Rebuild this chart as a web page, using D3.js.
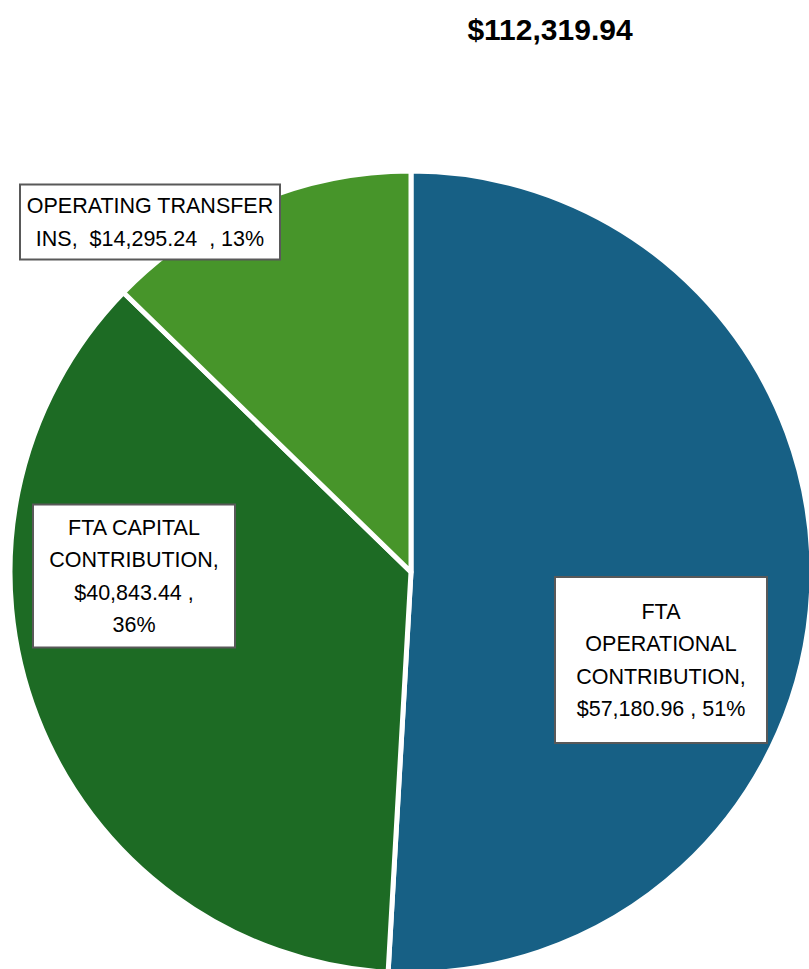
<!DOCTYPE html>
<html>
<head>
<meta charset="utf-8">
<script src="https://cdn.jsdelivr.net/npm/d3@7"></script>
<style>
    body { margin: 0; background: #fff; overflow: hidden; }
    text { font-family: "Liberation Sans", Arial, sans-serif; }
</style>
</head>
<body>
<div id="chart"></div>
<script>
// data
let categories = ['FTA OPERATIONAL CONTRIBUTION', 'FTA CAPITAL CONTRIBUTION', 'OPERATING TRANSFER INS'];
let amounts = [57180.96, 40843.44, 14295.24];
let percentLabels = ['51%', '36%', '13%'];
let totalLabel = '$112,319.94';
let colors = ['#176085', '#1d6b24', '#47952a'];

// label text lines, as wrapped in the reference
let labelLines = [
    ['FTA', 'OPERATIONAL', 'CONTRIBUTION,', '$57,180.96 , 51%'],
    ['FTA CAPITAL', 'CONTRIBUTION,', '$40,843.44 ,', '36%'],
    ['OPERATING TRANSFER', 'INS,  $14,295.24  , 13%']
];

// label box layout (center x, center y, width, height)
let labelBoxes = [
    {cx: 661, cy: 660, w: 212, h: 166},
    {cx: 134, cy: 576, w: 202, h: 143},
    {cx: 150, cy: 222, w: 260, h: 75}
];

let width = 809, height = 969;
let center = {x: 411, y: 572};
let radius = 401;

let svg = d3.select('#chart').append('svg')
    .attr('width', width)
    .attr('height', height);

// title
svg.append('text')
    .attr('x', 550)
    .attr('y', 40)
    .attr('text-anchor', 'middle')
    .attr('font-weight', 'bold')
    .attr('font-size', '30px')
    .attr('fill', '#000')
    .text(totalLabel);

let pie = d3.pie().sort(null).value(d => d);
let arc = d3.arc().innerRadius(0).outerRadius(radius);

let pieGroup = svg.append('g')
    .attr('transform', `translate(${center.x}, ${center.y})`);

pieGroup.selectAll('path')
    .data(pie(amounts))
    .enter().append('path')
    .attr('d', arc)
    .attr('fill', (d, i) => colors[i])
    .attr('stroke', '#fff')
    .attr('stroke-width', 5)
    .attr('stroke-linejoin', 'round');

// labels
let lineHeight = 32.5;
let labels = svg.selectAll('g.label')
    .data(categories)
    .enter().append('g')
    .attr('class', 'label');

labels.append('rect')
    .attr('x', (d, i) => labelBoxes[i].cx - labelBoxes[i].w / 2)
    .attr('y', (d, i) => labelBoxes[i].cy - labelBoxes[i].h / 2)
    .attr('width', (d, i) => labelBoxes[i].w)
    .attr('height', (d, i) => labelBoxes[i].h)
    .attr('fill', '#fff')
    .attr('stroke', '#595959')
    .attr('stroke-width', 2);

labels.each(function (d, i) {
    let lines = labelLines[i];
    let b = labelBoxes[i];
    let startY = b.cy - (lines.length - 1) * lineHeight / 2;
    d3.select(this).selectAll('text')
        .data(lines)
        .enter().append('text')
        .attr('x', b.cx)
        .attr('y', (l, j) => startY + j * lineHeight)
        .attr('dy', '0.36em')
        .attr('text-anchor', 'middle')
        .attr('font-size', '21.5px')
        .attr('fill', '#000')
        .style('white-space', 'pre')
        .text(l => l);
});
</script>
</body>
</html>
